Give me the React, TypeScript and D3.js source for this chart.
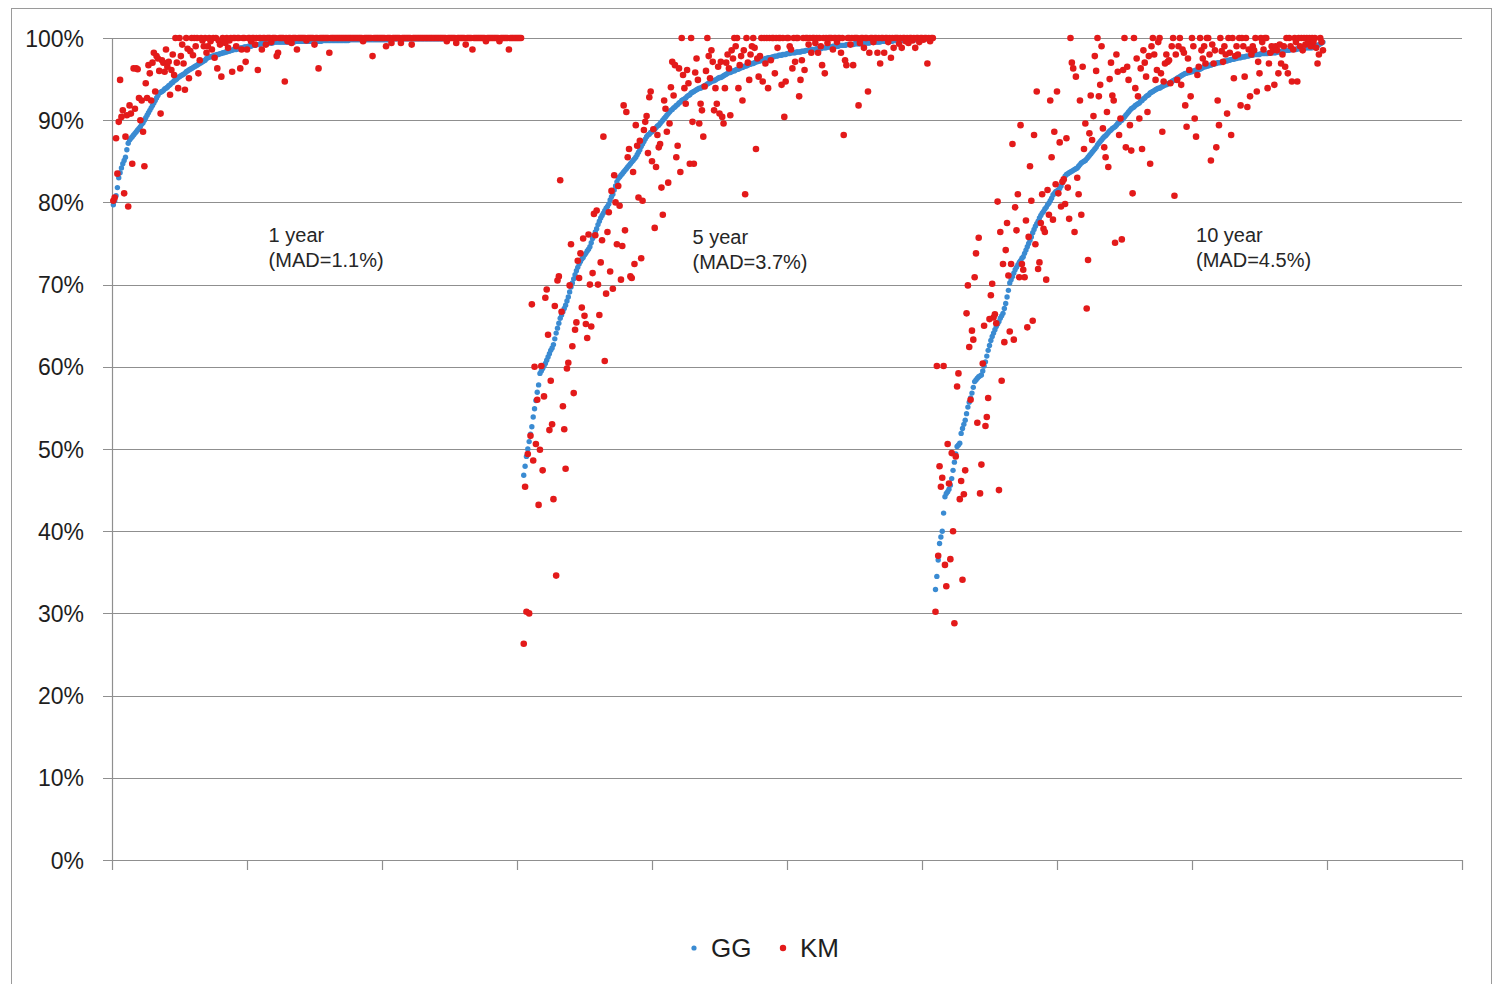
import React from 'react';
import * as d3 from 'd3';

// first case number of each follow-up group (cases are numbered along the x axis)
const caseStart = [1, 305, 610];

// 1 year: GG estimate (sorted) and KM estimate per case, in %
const gg1yr = [
  79.7, 80.2, 80.8, 81.8, 83.0, 83.6, 84.2, 84.7, 85.1, 85.5,
  86.4, 87.2, 87.6, 87.8, 88.0, 88.2, 88.4, 88.6, 88.8, 89.0,
  89.2, 89.5, 89.7, 90.0, 90.3, 90.6, 90.9, 91.2, 91.5, 91.8,
  92.1, 92.4, 92.7, 93.0, 93.3, 93.4, 93.5, 93.6, 93.8, 93.9,
  94.0, 94.2, 94.3, 94.5, 94.6, 94.8, 94.9, 95.0, 95.2, 95.3,
  95.4, 95.5, 95.6, 95.7, 95.9, 96.0, 96.1, 96.2, 96.3, 96.4,
  96.5, 96.6, 96.7, 96.8, 96.9, 97.0, 97.1, 97.2, 97.3, 97.5,
  97.6, 97.7, 97.7, 97.8, 97.8, 97.9, 97.9, 98.0, 98.0, 98.1,
  98.1, 98.2, 98.2, 98.3, 98.3, 98.4, 98.4, 98.5, 98.5, 98.6,
  98.6, 98.6, 98.7, 98.7, 98.8, 98.8, 98.8, 98.9, 98.9, 98.9,
  99.0, 99.0, 99.0, 99.1, 99.1, 99.1, 99.2, 99.2, 99.2, 99.3,
  99.3, 99.3, 99.3, 99.4, 99.4, 99.4, 99.4, 99.4, 99.4, 99.5,
  99.5, 99.5, 99.5, 99.5, 99.5, 99.5, 99.5, 99.5, 99.5, 99.5,
  99.5, 99.5, 99.5, 99.5, 99.5, 99.6, 99.6, 99.6, 99.6, 99.6,
  99.6, 99.6, 99.6, 99.6, 99.6, 99.6, 99.6, 99.6, 99.6, 99.6,
  99.6, 99.6, 99.6, 99.6, 99.6, 99.7, 99.7, 99.7, 99.7, 99.7,
  99.7, 99.7, 99.7, 99.7, 99.7, 99.7, 99.7, 99.7, 99.7, 99.7,
  99.7, 99.7, 99.7, 99.7, 99.7, 99.8, 99.8, 99.8, 99.8, 99.8,
  99.8, 99.8, 99.8, 99.8, 99.8, 99.8, 99.8, 99.8, 99.8, 99.8,
  99.8, 99.8, 99.8, 99.8, 99.8, 99.8, 99.8, 99.8, 99.8, 99.8,
  99.8, 99.8, 99.8, 99.8, 99.8, 99.9, 99.9, 99.9, 99.9, 99.9,
  99.9, 99.9, 99.9, 99.9, 99.9, 99.9, 99.9, 99.9, 99.9, 99.9,
  99.9, 99.9, 99.9, 99.9, 99.9, 99.9, 99.9, 99.9, 99.9, 99.9,
  99.9, 99.9, 99.9, 99.9, 99.9, 99.9, 99.9, 99.9, 99.9, 99.9,
  99.9, 99.9, 99.9, 99.9, 99.9, 100, 100, 100, 100, 100,
  100, 100, 100, 100, 100, 100, 100, 100, 100, 100,
  100, 100, 100, 100, 100, 100, 100, 100, 100, 100,
  100, 100, 100, 100, 100, 100, 100, 100, 100, 100,
  100, 100, 100, 100, 100, 100, 100, 100, 100, 100,
  100, 100, 100, 100, 100, 100, 100, 100, 100, 100,
  100, 100, 100,
];
const km1yr = [
  80.2, 80.6, 87.8, 83.5, 89.8, 94.9, 90.4, 91.2, 81.1, 88.0,
  90.6, 79.5, 91.8, 90.8, 84.7, 96.3, 91.4, 96.3, 96.2, 92.7,
  90.0, 92.4, 88.6, 84.4, 94.5, 92.7, 96.7, 95.7, 92.4, 97.0,
  98.2, 93.5, 97.8, 97.5, 96.0, 90.8, 97.3, 97.0, 95.9, 98.6,
  96.5, 97.1, 93.1, 96.1, 98.0, 95.5, 100, 97.0, 93.9, 100,
  97.8, 99.2, 96.9, 93.7, 100, 98.7, 95.1, 98.4, 100, 97.9,
  100, 99.0, 100, 95.7, 97.3, 100, 99.7, 99.0, 100, 98.2,
  99.0, 100, 99.6, 98.6, 100, 97.6, 100, 96.3, 99.7, 99.2,
  95.3, 100, 99.6, 99.4, 100, 98.8, 99.7, 100, 95.9, 100,
  100, 99.0, 100, 100, 96.3, 98.6, 100, 100, 97.1, 98.6,
  100, 100, 99.6, 100, 100, 99.2, 100, 96.1, 100, 100,
  98.6, 100, 100, 99.2, 100, 100, 100, 99.5, 100, 100,
  100, 97.8, 98.2, 100, 100, 100, 100, 94.7, 100, 99.6,
  100, 100, 99.4, 100, 100, 100, 98.6, 100, 100, 100,
  100, 100, 100, 99.7, 100, 100, 100, 100, 100, 99.2,
  100, 100, 96.3, 100, 100, 100, 100, 100, 100, 100,
  98.2, 100, 100, 100, 100, 100, 100, 100, 100, 100,
  100, 100, 100, 100, 100, 100, 100, 100, 100, 100,
  100, 100, 100, 100, 100, 99.6, 100, 100, 100, 100,
  100, 100, 97.8, 100, 100, 100, 100, 100, 100, 100,
  100, 100, 99.0, 100, 100, 100, 99.4, 100, 100, 100,
  100, 100, 100, 99.4, 100, 100, 100, 100, 100, 100,
  100, 99.2, 100, 100, 100, 100, 100, 100, 100, 100,
  100, 100, 100, 100, 100, 100, 100, 100, 100, 100,
  100, 100, 100, 100, 100, 100, 100, 99.6, 100, 100,
  100, 100, 100, 100, 99.4, 100, 100, 100, 100, 100,
  100, 99.2, 100, 100, 100, 100, 98.6, 100, 100, 100,
  100, 100, 100, 100, 100, 100, 99.6, 100, 100, 100,
  100, 100, 100, 100, 100, 100, 99.6, 100, 100, 100,
  100, 100, 100, 98.6, 100, 100, 100, 100, 100, 100,
  100, 100, 100,
];

// 5 year
const gg5yr = [
  46.8, 47.9, 49.1, 50.0, 50.9, 51.8, 52.7, 53.9, 54.9, 55.9,
  56.9, 57.8, 59.2, 59.5, 59.8, 60.1, 60.4, 60.8, 61.2, 61.6,
  62.0, 62.3, 62.7, 63.4, 64.1, 64.7, 65.3, 65.9, 66.3, 66.7,
  67.1, 67.5, 68.0, 68.5, 69.1, 69.7, 70.2, 70.7, 71.2, 71.7,
  72.1, 72.5, 72.8, 73.1, 73.3, 73.6, 73.8, 74.1, 74.3, 74.6,
  75.1, 75.6, 76.0, 76.4, 76.8, 77.3, 77.7, 78.1, 78.4, 78.7,
  79.0, 79.3, 79.5, 79.8, 80.3, 80.7, 81.0, 81.5, 82.0, 82.5,
  82.9, 83.1, 83.3, 83.5, 83.7, 83.9, 84.1, 84.3, 84.5, 84.7,
  84.9, 85.1, 85.3, 85.5, 85.8, 86.1, 86.4, 86.8, 87.1, 87.4,
  87.7, 88.0, 88.2, 88.3, 88.5, 88.6, 88.8, 88.9, 89.1, 89.3,
  89.4, 89.6, 89.8, 90.0, 90.2, 90.4, 90.6, 90.8, 91.0, 91.2,
  91.3, 91.5, 91.6, 91.8, 91.9, 92.1, 92.2, 92.4, 92.5, 92.6,
  92.7, 92.9, 93.0, 93.1, 93.3, 93.4, 93.5, 93.6, 93.7, 93.8,
  93.9, 93.9, 94.0, 94.1, 94.2, 94.3, 94.4, 94.5, 94.6, 94.7,
  94.8, 94.8, 94.9, 95.0, 95.1, 95.2, 95.2, 95.3, 95.4, 95.5,
  95.6, 95.7, 95.8, 95.8, 95.9, 96.0, 96.0, 96.1, 96.2, 96.2,
  96.3, 96.4, 96.4, 96.5, 96.6, 96.6, 96.7, 96.8, 96.8, 96.9,
  96.9, 97.0, 97.1, 97.1, 97.2, 97.2, 97.3, 97.3, 97.4, 97.5,
  97.5, 97.6, 97.6, 97.6, 97.7, 97.7, 97.8, 97.8, 97.8, 97.9,
  97.9, 97.9, 98.0, 98.0, 98.0, 98.1, 98.1, 98.1, 98.2, 98.2,
  98.2, 98.2, 98.3, 98.3, 98.3, 98.3, 98.4, 98.4, 98.4, 98.5,
  98.5, 98.5, 98.5, 98.6, 98.6, 98.6, 98.6, 98.7, 98.7, 98.7,
  98.7, 98.8, 98.8, 98.8, 98.8, 98.9, 98.9, 98.9, 98.9, 99.0,
  99.0, 99.0, 99.0, 99.0, 99.1, 99.1, 99.1, 99.1, 99.1, 99.2,
  99.2, 99.2, 99.2, 99.2, 99.2, 99.3, 99.3, 99.3, 99.3, 99.3,
  99.3, 99.4, 99.4, 99.4, 99.4, 99.4, 99.4, 99.5, 99.5, 99.5,
  99.5, 99.5, 99.5, 99.5, 99.5, 99.6, 99.6, 99.6, 99.6, 99.6,
  99.6, 99.6, 99.6, 99.6, 99.7, 99.7, 99.7, 99.7, 99.7, 99.7,
  99.7, 99.7, 99.7, 99.7, 99.8, 99.8, 99.8, 99.8, 99.8, 99.8,
  99.8, 99.8, 99.8, 99.8, 99.8, 99.9, 99.9, 99.9, 99.9, 99.9,
  99.9, 99.9, 99.9, 100,
];
const km5yr = [
  26.3, 45.4, 30.2, 49.4, 30.0, 51.6, 67.6, 48.6, 60.0, 50.6,
  56.0, 43.2, 49.9, 60.1, 47.4, 56.4, 68.4, 69.4, 63.9, 52.3,
  58.3, 53.0, 43.9, 67.4, 34.6, 70.5, 71.0, 82.7, 66.7, 55.2,
  52.4, 47.6, 59.8, 60.5, 69.9, 74.9, 62.5, 56.8, 64.5, 65.4,
  72.9, 70.8, 73.8, 67.2, 75.6, 66.2, 65.2, 63.5, 76.1, 70.0,
  64.9, 71.4, 78.6, 76.0, 79.0, 70.0, 66.3, 72.7, 75.4, 88.0,
  60.7, 68.9, 76.4, 78.8, 71.6, 81.4, 69.5, 83.3, 80.0, 74.9,
  82.0, 79.6, 70.6, 74.7, 91.8, 76.6, 91.0, 85.5, 86.5, 71.0,
  70.8, 83.7, 72.5, 89.4, 86.9, 80.6, 87.5, 73.2, 80.2, 88.8,
  89.8, 90.5, 86.0, 92.8, 93.5, 85.0, 88.9, 76.9, 84.3, 88.2,
  86.7, 87.1, 81.8, 78.5, 92.4, 91.4, 88.6, 82.4, 89.6, 94.0,
  97.1, 93.0, 96.7, 85.5, 86.9, 96.3, 83.7, 100, 95.5, 93.9,
  92.0, 96.1, 94.5, 84.7, 100, 89.8, 84.7, 95.8, 97.5, 94.9,
  89.6, 92.0, 91.2, 88.0, 94.1, 96.0, 100, 97.8, 95.1, 98.5,
  97.1, 91.2, 93.9, 92.0, 96.5, 90.8, 97.1, 90.4, 89.6, 93.9,
  97.0, 98.0, 96.3, 90.6, 98.5, 97.5, 100, 99.0, 100, 93.9,
  96.7, 97.8, 92.4, 98.5, 81.0, 100, 97.0, 94.9, 98.0, 99.0,
  100, 98.8, 86.5, 97.5, 95.3, 97.8, 100, 94.7, 100, 96.9,
  100, 93.9, 100, 97.3, 100, 100, 95.7, 100, 98.8, 100,
  100, 94.3, 100, 90.4, 94.7, 100, 100, 99.0, 98.6, 96.3,
  100, 97.1, 100, 100, 92.9, 94.9, 97.3, 100, 96.1, 100,
  100, 99.2, 100, 98.2, 100, 100, 99.4, 100, 98.2, 100,
  99.0, 96.7, 100, 95.7, 100, 99.4, 100, 100, 100, 98.6,
  100, 100, 99.5, 100, 100, 98.2, 100, 88.2, 97.3, 96.7,
  100, 100, 99.2, 100, 96.7, 100, 100, 100, 91.8, 99.4,
  100, 100, 98.8, 100, 100, 93.5, 98.2, 100, 100, 99.5,
  100, 100, 98.2, 100, 96.9, 100, 100, 98.2, 100, 100,
  99.5, 100, 97.6, 100, 98.8, 100, 100, 100, 99.3, 100,
  98.8, 100, 100, 99.6, 100, 99.4, 100, 100, 99.7, 100,
  98.8, 100, 100, 99.5, 100, 100, 99.8, 100, 100, 96.9,
  100, 99.6, 100, 100,
];

// 10 year
const gg10yr = [
  32.9, 34.5, 36.5, 38.5, 39.3, 40.0, 42.2, 44.2, 44.6, 44.8,
  45.1, 45.6, 46.4, 47.4, 48.4, 49.4, 50.3, 50.5, 50.7, 51.9,
  52.5, 53.0, 53.5, 54.3, 55.1, 55.7, 56.2, 56.8, 57.5, 58.2,
  58.4, 58.6, 58.8, 58.9, 59.0, 59.5, 60.1, 60.6, 61.3, 62.0,
  62.6, 63.2, 63.7, 64.1, 64.5, 64.9, 65.2, 65.5, 65.9, 66.2,
  66.5, 67.1, 67.7, 68.5, 69.3, 70.2, 70.6, 71.0, 71.4, 71.8,
  72.1, 72.4, 72.7, 72.9, 73.2, 73.4, 73.8, 74.2, 74.6, 75.0,
  75.4, 75.8, 76.3, 76.7, 77.1, 77.4, 77.7, 78.1, 78.4, 78.7,
  78.9, 79.2, 79.4, 79.7, 79.9, 80.2, 80.5, 80.9, 81.1, 81.3,
  81.4, 81.5, 81.7, 82.0, 82.4, 82.8, 83.2, 83.4, 83.5, 83.6,
  83.7, 83.8, 83.9, 84.0, 84.1, 84.2, 84.4, 84.6, 84.8, 84.9,
  85.0, 85.1, 85.3, 85.5, 85.7, 85.9, 86.1, 86.3, 86.5, 86.7,
  87.0, 87.2, 87.4, 87.6, 87.8, 88.0, 88.1, 88.3, 88.5, 88.7,
  88.8, 89.0, 89.1, 89.2, 89.4, 89.6, 89.7, 89.9, 90.0, 90.2,
  90.4, 90.6, 90.8, 91.0, 91.2, 91.4, 91.5, 91.6, 91.8, 91.9,
  92.0, 92.1, 92.3, 92.4, 92.6, 92.7, 92.9, 93.0, 93.1, 93.3,
  93.4, 93.5, 93.6, 93.7, 93.8, 93.9, 93.9, 94.0, 94.1, 94.2,
  94.3, 94.3, 94.4, 94.5, 94.6, 94.7, 94.8, 94.9, 95.0, 95.1,
  95.2, 95.3, 95.4, 95.5, 95.6, 95.7, 95.7, 95.8, 95.8, 95.9,
  95.9, 96.0, 96.0, 96.1, 96.1, 96.2, 96.2, 96.3, 96.4, 96.5,
  96.5, 96.6, 96.6, 96.7, 96.7, 96.8, 96.8, 96.9, 96.9, 97.0,
  97.0, 97.0, 97.1, 97.1, 97.2, 97.2, 97.2, 97.3, 97.3, 97.4,
  97.4, 97.4, 97.5, 97.5, 97.6, 97.6, 97.6, 97.7, 97.7, 97.7,
  97.8, 97.8, 97.8, 97.9, 97.9, 97.9, 98.0, 98.0, 98.0, 98.0,
  98.0, 98.1, 98.1, 98.1, 98.1, 98.1, 98.1, 98.2, 98.2, 98.2,
  98.2, 98.2, 98.2, 98.3, 98.3, 98.3, 98.4, 98.4, 98.4, 98.5,
  98.5, 98.5, 98.5, 98.6, 98.6, 98.6, 98.6, 98.6, 98.7, 98.7,
  98.7, 98.7, 98.7, 98.7, 98.8, 98.8, 98.8, 98.8, 98.8, 98.8,
  98.9, 98.9, 99.0, 99.1, 99.2, 99.3, 99.4, 99.5,
];
const km10yr = [
  30.2, 60.1, 37.0, 47.9, 45.4, 46.5, 60.1, 35.9, 33.3, 50.6,
  45.8, 36.6, 49.5, 40.0, 28.8, 49.1, 57.6, 59.2, 43.9, 46.1,
  34.1, 44.5, 47.4, 66.5, 69.9, 62.4, 56.0, 64.4, 63.3, 70.9,
  73.8, 53.2, 75.7, 44.6, 48.1, 60.4, 65.0, 52.8, 53.9, 56.2,
  65.8, 68.7, 70.1, 66.0, 66.4, 65.3, 80.1, 45.0, 76.4, 58.3,
  72.5, 63.0, 74.2, 77.5, 71.1, 64.3, 72.5, 87.1, 63.3, 79.4,
  76.6, 81.0, 70.9, 89.4, 72.5, 71.8, 70.9, 77.8, 64.8, 75.8,
  84.4, 80.2, 65.6, 88.2, 74.9, 93.5, 71.9, 72.7, 77.5, 81.0,
  76.8, 76.4, 70.6, 81.5, 78.5, 92.4, 85.5, 77.9, 88.6, 82.2,
  93.5, 81.1, 87.3, 79.5, 82.5, 82.8, 79.8, 87.8, 81.8, 78.0,
  100, 97.0, 96.3, 76.4, 95.3, 83.0, 81.0, 92.4, 78.5, 96.5,
  86.5, 89.6, 67.1, 73.0, 88.4, 93.0, 87.6, 90.5, 97.8, 96.0,
  100, 92.9, 94.3, 99.0, 89.0, 86.7, 85.5, 91.0, 84.3, 95.0,
  97.0, 93.0, 92.4, 75.1, 98.0, 95.9, 88.2, 90.2, 75.5, 96.1,
  100, 86.7, 96.5, 94.9, 89.4, 86.3, 81.1, 100, 93.9, 97.5,
  92.9, 90.2, 96.3, 86.5, 98.5, 97.0, 95.3, 91.0, 97.8, 84.7,
  99.0, 100, 98.0, 94.9, 96.1, 99.5, 100, 95.7, 88.6, 94.7,
  96.9, 98.0, 97.1, 97.3, 94.5, 99.0, 100, 80.8, 98.0, 94.9,
  99.0, 100, 94.3, 98.6, 98.2, 91.8, 89.2, 97.5, 96.1, 92.9,
  100, 99.0, 90.2, 88.0, 95.5, 96.5, 100, 98.5, 97.5, 99.0,
  96.9, 100, 100, 98.0, 85.1, 99.2, 96.9, 98.5, 86.7, 92.4,
  89.4, 100, 98.4, 97.1, 99.0, 98.0, 90.8, 100, 98.2, 88.2,
  100, 95.1, 97.8, 99.0, 98.0, 100, 91.8, 100, 99.0, 95.3,
  100, 91.6, 98.6, 92.9, 98.0, 99.0, 98.5, 100, 93.5, 97.1,
  95.7, 100, 99.5, 98.6, 100, 100, 93.9, 96.9, 98.2, 99.0,
  98.5, 94.3, 99.0, 98.5, 95.7, 99.2, 96.9, 98.0, 99.0, 96.5,
  100, 95.7, 100, 99.0, 94.7, 98.6, 100, 99.5, 94.7, 100,
  99.0, 100, 98.5, 100, 99.2, 100, 99.5, 100, 99.0, 100,
  99.5, 100, 98.8, 96.9, 98.0, 100, 99.5, 98.5,
];

const ggGroups = [gg1yr, gg5yr, gg10yr];
const kmGroups = [km1yr, km5yr, km10yr];
const groupNotes = [
  ['1 year', '(MAD=1.1%)'],
  ['5 year', '(MAD=3.7%)'],
  ['10 year', '(MAD=4.5%)'],
];
const yTicks = [0, 10, 20, 30, 40, 50, 60, 70, 80, 90, 100];
const xTicks = [0, 100, 200, 300, 400, 500, 600, 700, 800, 900, 1000];
const seriesNames = ['GG', 'KM'];

const W = 1492;
const H = 984;
const FONT = '"Liberation Sans", Arial, sans-serif';
const GRID = '#8f8f8f';
const BLUE = '#3a8bd2';
const RED = '#e31a1a';

function App() {
  const x = d3.scaleLinear().domain([0, 1000]).range([112, 1462]);
  const y = d3.scaleLinear().domain([0, 100]).range([860, 38]);

  const gg = ggGroups.flatMap((vals, g) => vals.map((v, k) => ({ c: caseStart[g] + k, v })));
  const km = kmGroups.flatMap((vals, g) => vals.map((v, k) => ({ c: caseStart[g] + k, v })));

  // note anchors in case / percent units
  const notePos = [
    { c: 116, v: 75.2 },
    { c: 430, v: 74.9 },
    { c: 803, v: 75.2 },
  ];

  return (
    <div style={{ position: 'absolute', left: 0, top: 0 }}>
      <svg width={W} height={H} style={{ display: 'block' }}>
        <rect x={0} y={0} width={W} height={H} fill="#fff" />
        <rect x={11.5} y={8.5} width={1480} height={1000} fill="#fff" stroke="#9a9a9a" />

        {yTicks.map(t => (
          <g key={'y' + t}>
            <line x1={103} x2={x(1000)} y1={Math.round(y(t)) + 0.5} y2={Math.round(y(t)) + 0.5}
              stroke={GRID} strokeWidth={1.2} />
            <text x={84} y={y(t) + 8.5} textAnchor="end" fontFamily={FONT} fontSize={23} fill="#1e1e1e">
              {t + '%'}
            </text>
          </g>
        ))}
        <line x1={112.5} x2={112.5} y1={y(100)} y2={y(0)} stroke={GRID} strokeWidth={1.2} />
        {xTicks.map(t => (
          <line key={'x' + t} x1={Math.round(x(t)) + 0.5} x2={Math.round(x(t)) + 0.5}
            y1={y(0)} y2={y(0) + 10} stroke={GRID} strokeWidth={1.2} />
        ))}

        <g fill={BLUE}>
          {gg.map(d => <circle key={'g' + d.c} cx={x(d.c)} cy={y(d.v)} r={2.7} />)}
        </g>
        <g fill={RED}>
          {km.map(d => <circle key={'k' + d.c} cx={x(d.c)} cy={y(d.v)} r={3.3} />)}
        </g>

        {groupNotes.map((lines, i) => (
          <text key={'n' + i} fontFamily={FONT} fontSize={20} fill="#262626">
            <tspan x={x(notePos[i].c)} y={y(notePos[i].v)}>{lines[0]}</tspan>
            <tspan x={x(notePos[i].c)} y={y(notePos[i].v) + 25}>{lines[1]}</tspan>
          </text>
        ))}

        {seriesNames.map((name, i) => (
          <g key={name}>
            <circle cx={694 + i * 89} cy={948} r={i === 0 ? 2.6 : 3.2} fill={i === 0 ? BLUE : RED} />
            <text x={711 + i * 89} y={957} fontFamily={FONT} fontSize={26} fill="#1e1e1e">{name}</text>
          </g>
        ))}
      </svg>
    </div>
  );
}

export default App;
